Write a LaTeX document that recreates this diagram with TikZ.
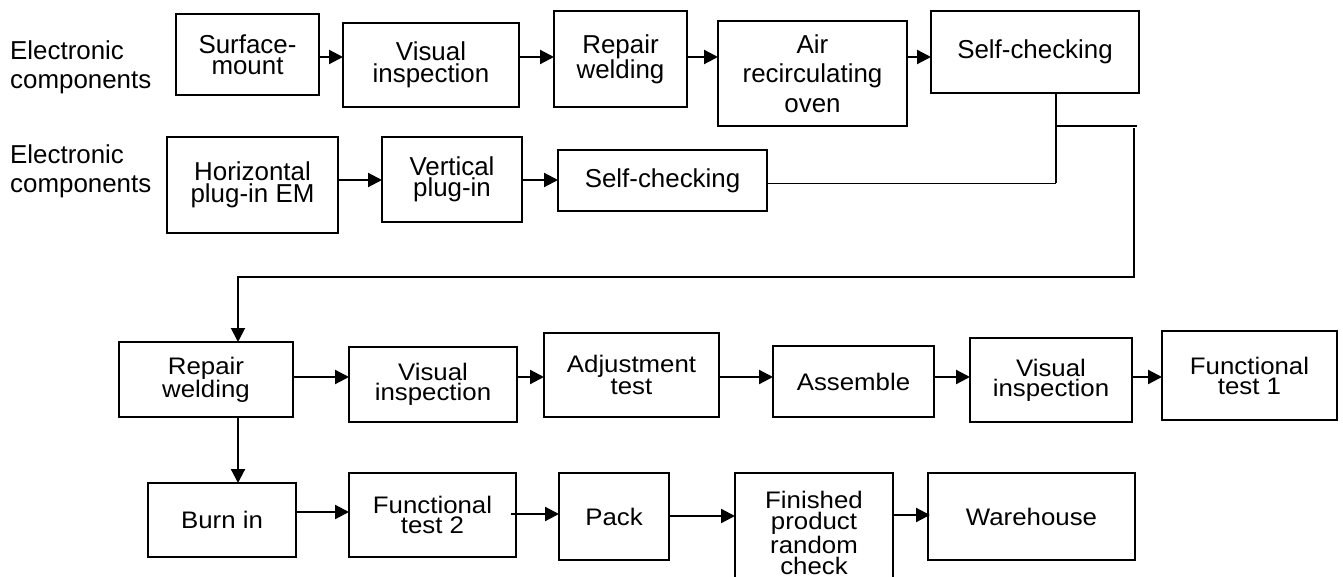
\documentclass[tikz,border=0pt]{standalone}
\usepackage{fontspec}
\setmainfont{Liberation Sans}
\newfontfamily\widesans[FakeStretch=1.08]{Liberation Sans}
\usetikzlibrary{arrows.meta}

\begin{document}
\begin{tikzpicture}[x=1bp, y=-1bp,
  box/.style={draw, line width=2.5bp, inner sep=0pt, outer sep=0pt,
    align=center, font=\fontsize{26}{21.5}\selectfont},
  lowbox/.style={box, font=\widesans\fontsize{24}{20}\selectfont},
  lbl/.style={anchor=west, align=left, inner sep=0pt,
    font=\fontsize{26}{29}\selectfont},
  arr/.style={line width=2.2bp, -{Triangle[length=14bp, width=14bp]}},
  conn/.style={line width=1.8bp},
]
\useasboundingbox (0,0) rectangle (1343,577);

% source labels
\node[lbl] (src1) at (10,67) {Electronic\\components};
\node[lbl] (src2) at (10,171) {Electronic\\components};

% surface-mount line
\node[box, minimum width=143bp, minimum height=81bp]  (surf)  at (247.5,54.5) {Surface-\\mount};
\node[box, minimum width=176bp, minimum height=84bp]  (vis1)  at (431,65)     {Visual\\inspection};
\node[box, minimum width=133bp, minimum height=96bp]  (rep1)  at (620.5,59)   {Repair\\welding};
\node[box, minimum width=189bp, minimum height=105bp, font=\fontsize{26}{29.5}\selectfont]
                                                      (air)   at (812.5,73.5) {Air\\recirculating\\oven};
\node[box, minimum width=208bp, minimum height=82bp]  (self1) at (1035,52)    {Self-checking};

% plug-in line
\node[box, minimum width=171bp, minimum height=96bp]  (hor)   at (252.5,185)  {Horizontal\\plug-in EM};
\node[box, minimum width=140bp, minimum height=85bp]  (vert)  at (452,179.5)  {Vertical\\plug-in};
\node[box, minimum width=209bp, minimum height=61bp]  (self2) at (662.5,180.5) {Self-checking};

% assembly line
\node[lowbox, minimum width=174bp, minimum height=75bp]  (rep2)  at (206,379.5)  {Repair\\welding};
\node[lowbox, minimum width=168bp, minimum height=75bp]  (vis2)  at (433,384.5)  {Visual\\inspection};
\node[lowbox, minimum width=175bp, minimum height=84bp]  (adj)   at (631.5,375)  {Adjustment\\test};
\node[lowbox, minimum width=161bp, minimum height=71bp]  (asm)   at (853.5,381.5) {Assemble};
\node[lowbox, minimum width=162bp, minimum height=84bp]  (vis3)  at (1051,380)   {Visual\\inspection};
\node[lowbox, minimum width=175bp, minimum height=89bp]  (fun1)  at (1249.5,375.5) {Functional\\test 1};

% final line
\node[lowbox, minimum width=148bp, minimum height=74bp]  (burn)  at (222,520)    {Burn in};
\node[lowbox, minimum width=167bp, minimum height=84bp]  (fun2)  at (432.5,515)  {Functional\\test 2};
\node[lowbox, minimum width=110bp, minimum height=87bp]  (pack)  at (614,516.5)  {Pack};
\node[lowbox, minimum width=158bp, minimum height=120bp, font=\widesans\fontsize{24}{21}\selectfont]
                                                         (fin)   at (814,533)    {Finished\\product\\random\\check};
\node[lowbox, minimum width=207bp, minimum height=87bp]  (ware)  at (1031.5,516.5) {Warehouse};

% junction and return path
\coordinate (j1) at (1056,183.5);
\coordinate (t1) at (1056,126);
\coordinate (t2) at (1137,126);
\coordinate (c1) at (1134,128);
\coordinate (c2) at (1134,277);
\coordinate (c3) at (238,277);

% surface-mount flow
\draw[arr] (surf.east |- 0,57) -- (vis1.west |- 0,57);
\draw[arr] (vis1.east |- 0,57) -- (rep1.west |- 0,57);
\draw[arr] (rep1.east |- 0,57) -- (air.west |- 0,57);
\draw[arr] (air.east |- 0,57)  -- (self1.west |- 0,57);

% plug-in flow
\draw[arr] (hor.east |- 0,180)  -- (vert.west |- 0,180);
\draw[arr] (vert.east |- 0,180) -- (self2.west |- 0,180);

% merging lines
\draw[conn] (self1.south -| j1) -- (j1);
\draw[conn] (self2.east |- j1) -- (j1);
\draw[conn] (t1) -- (t2);
\draw[arr, line width=2bp] (c1) -- (c2) -- (c3) -- (rep2.north -| c3);

% assembly flow
\draw[arr] (rep2.east |- 0,377) -- (vis2.west |- 0,377);
\draw[arr] (vis2.east |- 0,377) -- (adj.west |- 0,377);
\draw[arr] (adj.east |- 0,377)  -- (asm.west |- 0,377);
\draw[arr] (asm.east |- 0,377)  -- (vis3.west |- 0,377);
\draw[arr] (vis3.east |- 0,377) -- (fun1.west |- 0,377);

% final flow
\draw[arr] (rep2.south -| c3) -- (burn.north -| c3);
\draw[arr] (burn.east |- 0,512) -- (fun2.west |- 0,512);
\draw[arr] ([xshift=-5bp]fun2.east |- 0,514) -- (pack.west |- 0,514);
\draw[arr] (pack.east |- 0,516) -- (fin.west |- 0,516);
\draw[arr] (fin.east |- 0,515)  -- ([xshift=2bp]ware.west |- 0,515);
\end{tikzpicture}
\end{document}
